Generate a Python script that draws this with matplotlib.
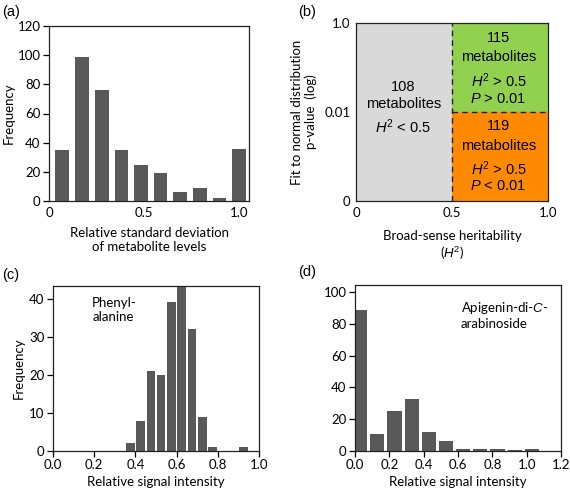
import matplotlib
matplotlib.use("Agg")
import matplotlib.pyplot as plt
import numpy as np

plt.rcParams['font.family'] = ['Lato', 'DejaVu Sans']
plt.rcParams['mathtext.fontset'] = 'custom'
plt.rcParams['mathtext.it'] = 'Liberation Sans:italic'
plt.rcParams['mathtext.rm'] = 'Liberation Sans'

# (a) relative standard deviation histogram
rsd_centers = [0.07, 0.174, 0.278, 0.381, 0.484, 0.587, 0.691, 0.794, 0.897, 1.0]
rsd_counts = [35, 99, 76, 35, 25, 19, 6, 9, 2, 36]

# (b) heritability classes
n_low_h2 = 108
n_high_h2_normal = 115
n_high_h2_nonnormal = 119

# (c) phenylalanine
phe_centers = [0.375, 0.425, 0.475, 0.525, 0.575, 0.625, 0.675, 0.725, 0.775, 0.925]
phe_counts = [2, 8, 21, 20, 39, 43, 32, 9, 1, 1]

# (d) apigenin-di-C-arabinoside
api_centers = [0.03, 0.13, 0.23, 0.33, 0.43, 0.53, 0.63, 0.73, 0.83, 0.93, 1.03]
api_counts = [89, 11, 25, 33, 12, 6, 1.3, 1.3, 1.3, 0.6, 1.3]

bar_col = '#595959'
tick_fs = 9.5
lab_fs = 9.5

fig = plt.figure(figsize=(5.7, 5.0), dpi=100)

def style(ax):
    for s in ax.spines.values():
        s.set_linewidth(0.9)
        s.set_color('#222222')
    ax.tick_params(direction='out', length=4, width=0.9, labelsize=tick_fs, pad=2)

# ---- (a)
ax = fig.add_axes([49/570, 1-201/500, 200/570, 175/500])
ax.bar(rsd_centers, rsd_counts, width=0.072, color=bar_col)
ax.set_xlim(0, 1.053)
ax.set_ylim(0, 120)
ax.set_yticks(range(0, 121, 20))
ax.set_xticks([0, 0.5, 1.0])
ax.set_xticklabels(['0', '0.5', '1.0'])
ax.set_ylabel('Frequency', fontsize=lab_fs, labelpad=2)
ax.set_xlabel('Relative standard deviation\nof metabolite levels', fontsize=lab_fs, labelpad=6)
style(ax)
ax.tick_params(axis='x', length=0, pad=4)
fig.text(2/570, 1-12/500, '(a)', fontsize=10.5, family='Liberation Sans', va='center')

# ---- (b)
ax = fig.add_axes([356/570, 1-201/500, 192/570, 178/500])
ax.set_xlim(0, 1)
ax.set_ylim(0, 2)
ax.fill_between([0, 0.5], 0, 2, color='#d9d9d9', lw=0)
ax.fill_between([0.5, 1.0], 1, 2, color='#92d050', lw=0)
ax.fill_between([0.5, 1.0], 0, 1, color='#ff8a00', lw=0)
ax.plot([0.5, 0.5], [0, 2], ls=(0, (4, 3)), color='#222222', lw=1)
ax.plot([0.5, 1.0], [1, 1], ls=(0, (4, 3)), color='#222222', lw=1)
tfs = 10.5
tkw = dict(ha='center', va='center', fontsize=tfs, family='Liberation Sans')
ax.text(0.247, 1.283, str(n_low_h2), **tkw)
ax.text(0.247, 1.087, 'metabolites', **tkw)
ax.text(0.247, 0.836, '$H^2$ < 0.5', **tkw)
ax.text(0.742, 1.827, str(n_high_h2_normal), **tkw)
ax.text(0.742, 1.614, 'metabolites', **tkw)
ax.text(0.742, 1.347, '$H^2$ > 0.5', **tkw)
ax.text(0.742, 1.149, '$P$ > 0.01', **tkw)
ax.text(0.742, 0.843, str(n_high_h2_nonnormal), **tkw)
ax.text(0.742, 0.623, 'metabolites', **tkw)
ax.text(0.742, 0.358, '$H^2$ > 0.5', **tkw)
ax.text(0.742, 0.163, '$P$ < 0.01', **tkw)
ax.set_xticks([0, 0.5, 1.0])
ax.set_xticklabels(['0', '0.5', '1.0'])
ax.set_yticks([0, 1, 2])
ax.set_yticklabels(['0', '0.01', '1.0'])
style(ax)
ax.tick_params(length=0, pad=4)
ax.set_ylabel('Fit to normal distribution\np-value  (log)', fontsize=lab_fs, labelpad=5)
ax.set_xlabel('Broad-sense heritability\n($H^2$)', fontsize=lab_fs, labelpad=8)
fig.text(298/570, 1-12/500, '(b)', fontsize=10.5, family='Liberation Sans', va='center')

# ---- (c)
ax = fig.add_axes([53/570, 1-451/500, 206/570, 165/500])
ax.bar(phe_centers, phe_counts, width=0.042, color=bar_col)
ax.set_xlim(0, 1.0)
ax.set_ylim(0, 43.3)
ax.set_yticks(range(0, 41, 10))
ax.set_xticks(np.arange(0, 1.01, 0.2))
ax.set_xticklabels(['0.0', '0.2', '0.4', '0.6', '0.8', '1.0'])
ax.set_ylabel('Frequency', fontsize=lab_fs, labelpad=3)
ax.set_xlabel('Relative signal intensity', fontsize=lab_fs, labelpad=3)
ax.text(0.19, 40.3, 'Phenyl-\nalanine', fontsize=9.5, va='top', ha='left', linespacing=1.2)
style(ax)
fig.text(2/570, 1-275/500, '(c)', fontsize=10.5, family='Liberation Sans', va='center')

# ---- (d)
ax = fig.add_axes([355/570, 1-451/500, 206/570, 166/500])
ax.bar(api_centers, api_counts, width=0.082, color=bar_col)
ax.set_xlim(0, 1.2)
ax.set_ylim(0, 104.5)
ax.set_yticks(range(0, 101, 20))
ax.set_xticks(np.arange(0, 1.21, 0.2))
ax.set_xticklabels(['0.0', '0.2', '0.4', '0.6', '0.8', '1.0', '1.2'])
ax.set_xlabel('Relative signal intensity', fontsize=lab_fs, labelpad=3)
ax.text(0.616, 95.0, 'Apigenin-di-$C$-\narabinoside', fontsize=9.5, va='top', ha='left', linespacing=1.2)
style(ax)
fig.text(298/570, 1-272/500, '(d)', fontsize=10.5, family='Liberation Sans', va='center')

fig.savefig('out.png', dpi=100)
